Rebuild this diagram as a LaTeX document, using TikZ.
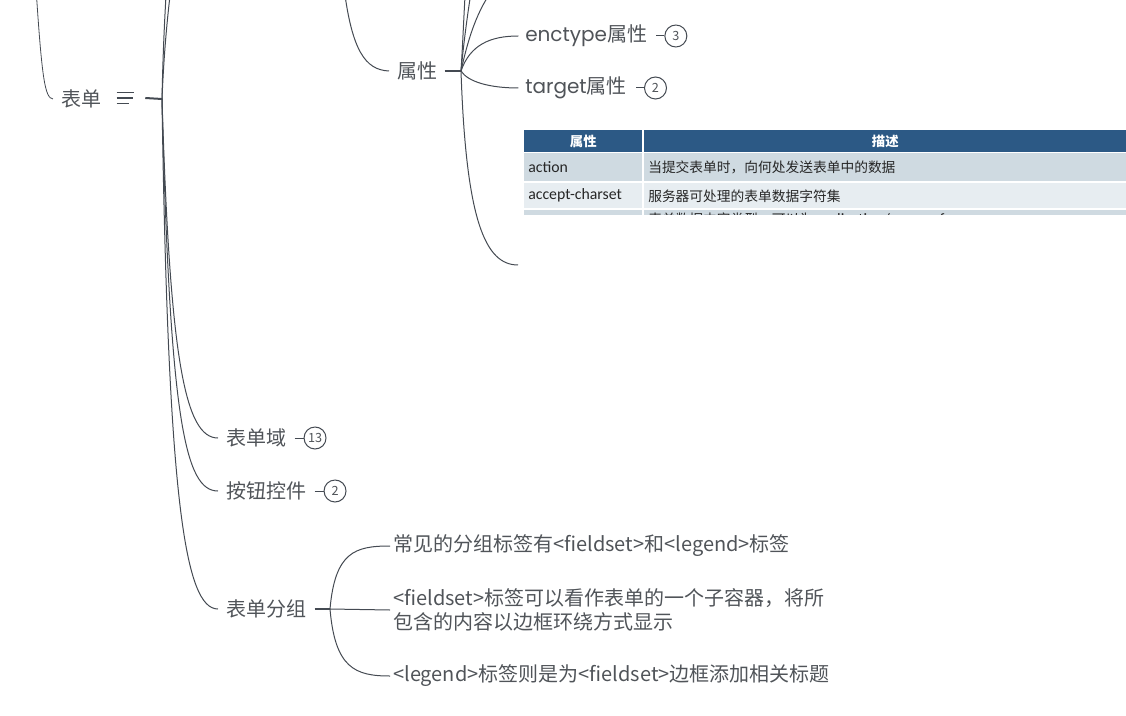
\documentclass[tikz,border=0pt]{standalone}
\usepackage{fontspec}
\setmainfont{Noto Sans CJK SC}
\newfontfamily\latinfont{Poppins}
\newfontfamily\tablefont[Scale=1.15]{Carlito}
\usetikzlibrary{positioning}
\definecolor{linegray}{HTML}{444A52}
\definecolor{textgray}{HTML}{505459}
\definecolor{headblue}{HTML}{2C5985}
\definecolor{rowdark}{HTML}{CFDAE1}
\definecolor{rowlight}{HTML}{E7EDF1}
\tikzstyle{topic} = [anchor=west, inner sep=0pt, text=textgray,
  font=\fontsize{15}{18}\selectfont, align=left]
\tikzstyle{branch} = [draw=linegray, line width=0.75pt]
\tikzstyle{stub} = [draw=linegray, line width=1.5pt]
\tikzstyle{badge} = [circle, draw=linegray, line width=0.75pt, minimum size=16.5pt,
  inner sep=0pt, text=textgray, font=\fontsize{9.5}{10}\selectfont]
\tikzstyle{cell} = [anchor=north west, inner sep=0pt, inner xsep=3pt, text=black!85,
  font=\fontsize{10.3}{12}\selectfont, align=left]

\begin{document}
\begin{tikzpicture}[x=0.75pt, y=-0.75pt]
    \useasboundingbox (0,0) rectangle (1126,716);
    \clip (0,0) rectangle (1126,716);
    % form node
    \node[topic] (form) at (61,99) {表单};
    \node[inner sep=0pt, minimum width=12.75pt, minimum height=7.5pt] (formicon) at (125.5,98) {};
    \draw[draw=linegray, line width=1.1pt] (formicon.north west) -- (formicon.north east);
    \draw[draw=linegray, line width=1.1pt] (formicon.west) -- ([xshift=-0.75pt]formicon.east);
    \draw[draw=linegray, line width=1.1pt] (formicon.south west) -- ([xshift=-4pt]formicon.south east);
    \coordinate (in0) at (36,-12);
    \coordinate (formhub) at (162,99);
    \draw[branch, line width=0.6pt] (in0) .. controls (42,80) and (45,98) .. ([xshift=-6pt]form.west);
    \draw[stub] ([xshift=8.25pt]formicon.east) -- (formhub);
    \coordinate (up1) at (167,-20);
    \coordinate (up2) at (172,-20);
    \draw[branch] (formhub) .. controls (163,50) and (165,10) .. (up1);
    \draw[branch] (formhub) .. controls (164,50) and (168,10) .. (up2);

    % attribute node
    \node[topic] (attr) at (397,71) {属性};
    \coordinate (in1) at (344,-12);
    \coordinate (attrhub) at (461,71);
    \draw[branch] (in1) .. controls (352,50) and (365,70) .. ([xshift=-6pt]attr.west);
    \draw[stub] ([xshift=5.25pt]attr.east) -- (attrhub);
    \coordinate (up3) at (466,-20);
    \coordinate (up4) at (473,-20);
    \coordinate (up5) at (497,-16);
    \draw[branch] (attrhub) .. controls (463,40) and (464,10) .. (up3);
    \draw[branch] (attrhub) .. controls (464,40) and (468,10) .. (up4);
    \draw[branch] (attrhub) .. controls (470,30) and (480,5) .. (up5);

    \node[topic] (enc) at (525,36) {{\latinfont enctype}属性};
    \node[badge, right=12.75pt of enc] (encn) {3};
    \draw[branch] ([xshift=6.75pt]enc.east) -- (encn.west);
    \node[topic] (tgt) at (525,88) {{\latinfont target}属性};
    \node[badge, right=12.75pt of tgt] (tgtn) {2};
    \draw[branch] ([xshift=6.75pt]tgt.east) -- (tgtn.west);
    \draw[branch] (attrhub) .. controls (470,45) and (490,36) .. ([xshift=-5pt]enc.west);
    \draw[branch] (attrhub) .. controls (468,82) and (490,88) .. ([xshift=-5pt]tgt.west);
    \coordinate (imgpt) at (518,265);
    \draw[branch] (attrhub) .. controls (466,220) and (485,265) .. (imgpt);

    % attribute table
    \begin{scope}
      \clip (524,129) rectangle (1126,215);
      \node[cell, fill=headblue, minimum width=88.5pt, minimum height=16.5pt, align=center,
        text=white, font=\fontsize{10}{12}\selectfont\bfseries] (th1) at (524,130) {属性};
      \node[cell, fill=headblue, minimum width=361.5pt, minimum height=16.5pt, align=center,
        text=white, font=\fontsize{10}{12}\selectfont\bfseries] (th2) at (644,130) {描述};
      \node[cell, fill=rowdark, minimum height=21pt, text width=82.5pt] (r1a) at (524,153) {\tablefont action};
      \node[cell, fill=rowdark, minimum height=21pt, text width=355.5pt] (r1b) at (644,153) {当提交表单时，向何处发送表单中的数据};
      \node[cell, fill=rowlight, minimum height=18.75pt, text width=82.5pt] (r2a) at (524,183) {\tablefont accept-charset};
      \node[cell, fill=rowlight, minimum height=18.75pt, text width=355.5pt] (r2b) at (644,183) {服务器可处理的表单数据字符集};
      \node[cell, fill=rowdark, minimum height=21pt, text width=82.5pt] (r3a) at (524,210) {};
      \node[cell, fill=rowdark, inner ysep=2pt, text width=355.5pt] (r3b) at (644,210)
        {表单数据内容类型，可以为{\tablefont application/x-www-form-urlencoded}、{\tablefont text/plain}};
    \end{scope}

    % lower children
    \node[topic] (field) at (226,438) {表单域};
    \node[badge, right=12.75pt of field] (fieldn) {13};
    \draw[branch] ([xshift=6pt]field.east) -- (fieldn.west);
    \node[topic] (btn) at (226,491) {按钮控件};
    \node[badge, right=12.75pt of btn] (btnn) {2};
    \draw[branch] ([xshift=6pt]btn.east) -- (btnn.west);
    \node[topic] (group) at (226,609) {表单分组};
    \draw[branch] (formhub) .. controls (170,360) and (185,438) .. ([xshift=-6pt]field.west);
    \draw[branch] (formhub) .. controls (170,420) and (185,491) .. ([xshift=-6pt]btn.west);
    \draw[branch] (formhub) .. controls (168,500) and (185,609) .. ([xshift=-6pt]group.west);

    % grouping children
    \coordinate (grouphub) at (330,609);
    \draw[stub] ([xshift=6pt]group.east) -- (grouphub);
    \node[topic] (g1) at (393,546) {常见的分组标签有<fieldset>和<legend>标签};
    \node[topic] (g2) at (393,610) {<fieldset>标签可以看作表单的一个子容器，将所\\包含的内容以边框环绕方式显示};
    \node[topic] (g3) at (393,676) {<legend>标签则是为<fieldset>边框添加相关标题};
    \draw[branch] (grouphub) .. controls (335,552) and (355,546) .. ([xshift=-2.25pt]g1.west);
    \draw[branch] (grouphub) -- ([xshift=-2.25pt]g2.west);
    \draw[branch] (grouphub) .. controls (335,668) and (355,676) .. ([xshift=-2.25pt]g3.west);
  \end{tikzpicture}
\end{document}
